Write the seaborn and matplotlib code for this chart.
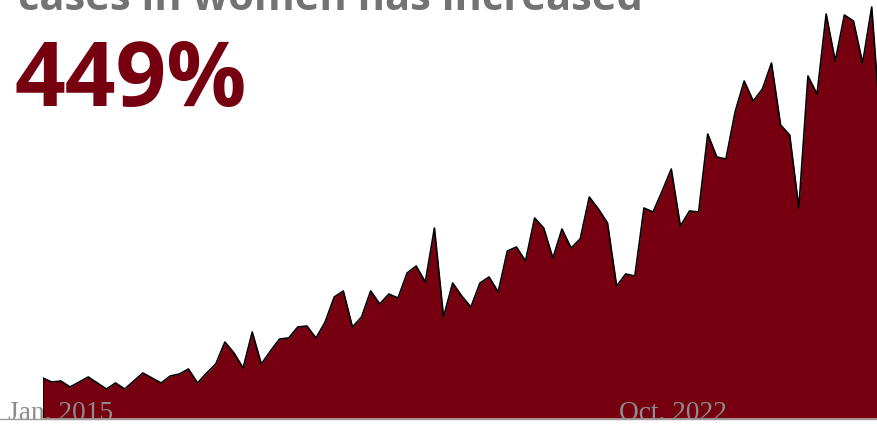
import numpy as np
import pandas as pd
import matplotlib
matplotlib.use("Agg")
import matplotlib.pyplot as plt
import matplotlib.transforms as mtransforms
from matplotlib.lines import Line2D
import seaborn as sns

# Monthly cases in women (relative units), Jan. 2015 onwards
cases = [
    40, 36, 37, 31, 36, 41, 35, 29, 35, 29,
    37, 45, 40, 35, 42, 44, 49, 35, 45, 54,
    76, 65, 50, 86, 54, 67, 79, 80, 91, 92,
    80, 96, 121, 127, 91, 101, 127, 114, 124, 120,
    145, 152, 136, 190, 101, 135, 122, 111, 135, 141,
    126, 167, 171, 157, 200, 190, 160, 189, 170, 179,
    221, 209, 195, 132, 144, 142, 210, 206, 227, 249,
    192, 207, 206, 284, 261, 259, 306, 337, 317, 329,
    355, 293, 283, 210, 342, 324, 404, 357, 403, 397,
    355, 411, 288,
]
tick_labels = ["Jan. 2015", "Oct. 2022"]
headline = "cases in women has increased"
change_label = "449%"

RED = "#76000f"

df = pd.DataFrame({"period": np.arange(len(cases)), "cases": cases})

W, H = 878, 424
fig = plt.figure(figsize=(W / 100, H / 100), dpi=100)
sns.set_style("white")

# plot area: from the first month to the right edge, baseline 6 px above bottom
left_px, base_px = 42.7, 418.0
ax = fig.add_axes([left_px / W, (H - base_px) / H, 1 - left_px / W, base_px / H])
step_px = 9.11
ax.set_xlim(0, (W - left_px) / step_px)
ax.set_ylim(0, base_px)
ax.set_axis_off()

ax.fill_between(df["period"], df["cases"], 0, color=RED, lw=0, zorder=1)
sns.lineplot(data=df, x="period", y="cases", ax=ax, color="black", lw=1.2,
             zorder=2, legend=False)
ax.plot([0, 0], [0, cases[0]], color="black", lw=1.2, zorder=2)

# baseline rule across the full width
fig.add_artist(Line2D([0, 1], [(H - base_px - 0.8) / H] * 2,
                      transform=fig.transFigure, color="#9a9a9a", lw=1.0))

# date labels sitting on the baseline
trans = mtransforms.blended_transform_factory(ax.transData, fig.transFigure)
for pos, lab in zip([2.0, 69.2], tick_labels):
    ax.text(pos, (H - 420.5) / H, lab, transform=trans, ha="center",
            va="baseline", fontsize=19.7, family="Liberation Serif",
            color="#8c8c8c", zorder=3, clip_on=False)

fig.text(18 / W, 1 - 10 / H, headline, ha="left", va="baseline",
         fontsize=30, fontweight="bold", family="Open Sans", color="#737373")
fig.text(14 / W, 1 - 106 / H, change_label, ha="left", va="baseline",
         fontsize=64, fontweight="bold", family="Open Sans", color=RED)

fig.savefig("out.png", dpi=100, facecolor="white")
